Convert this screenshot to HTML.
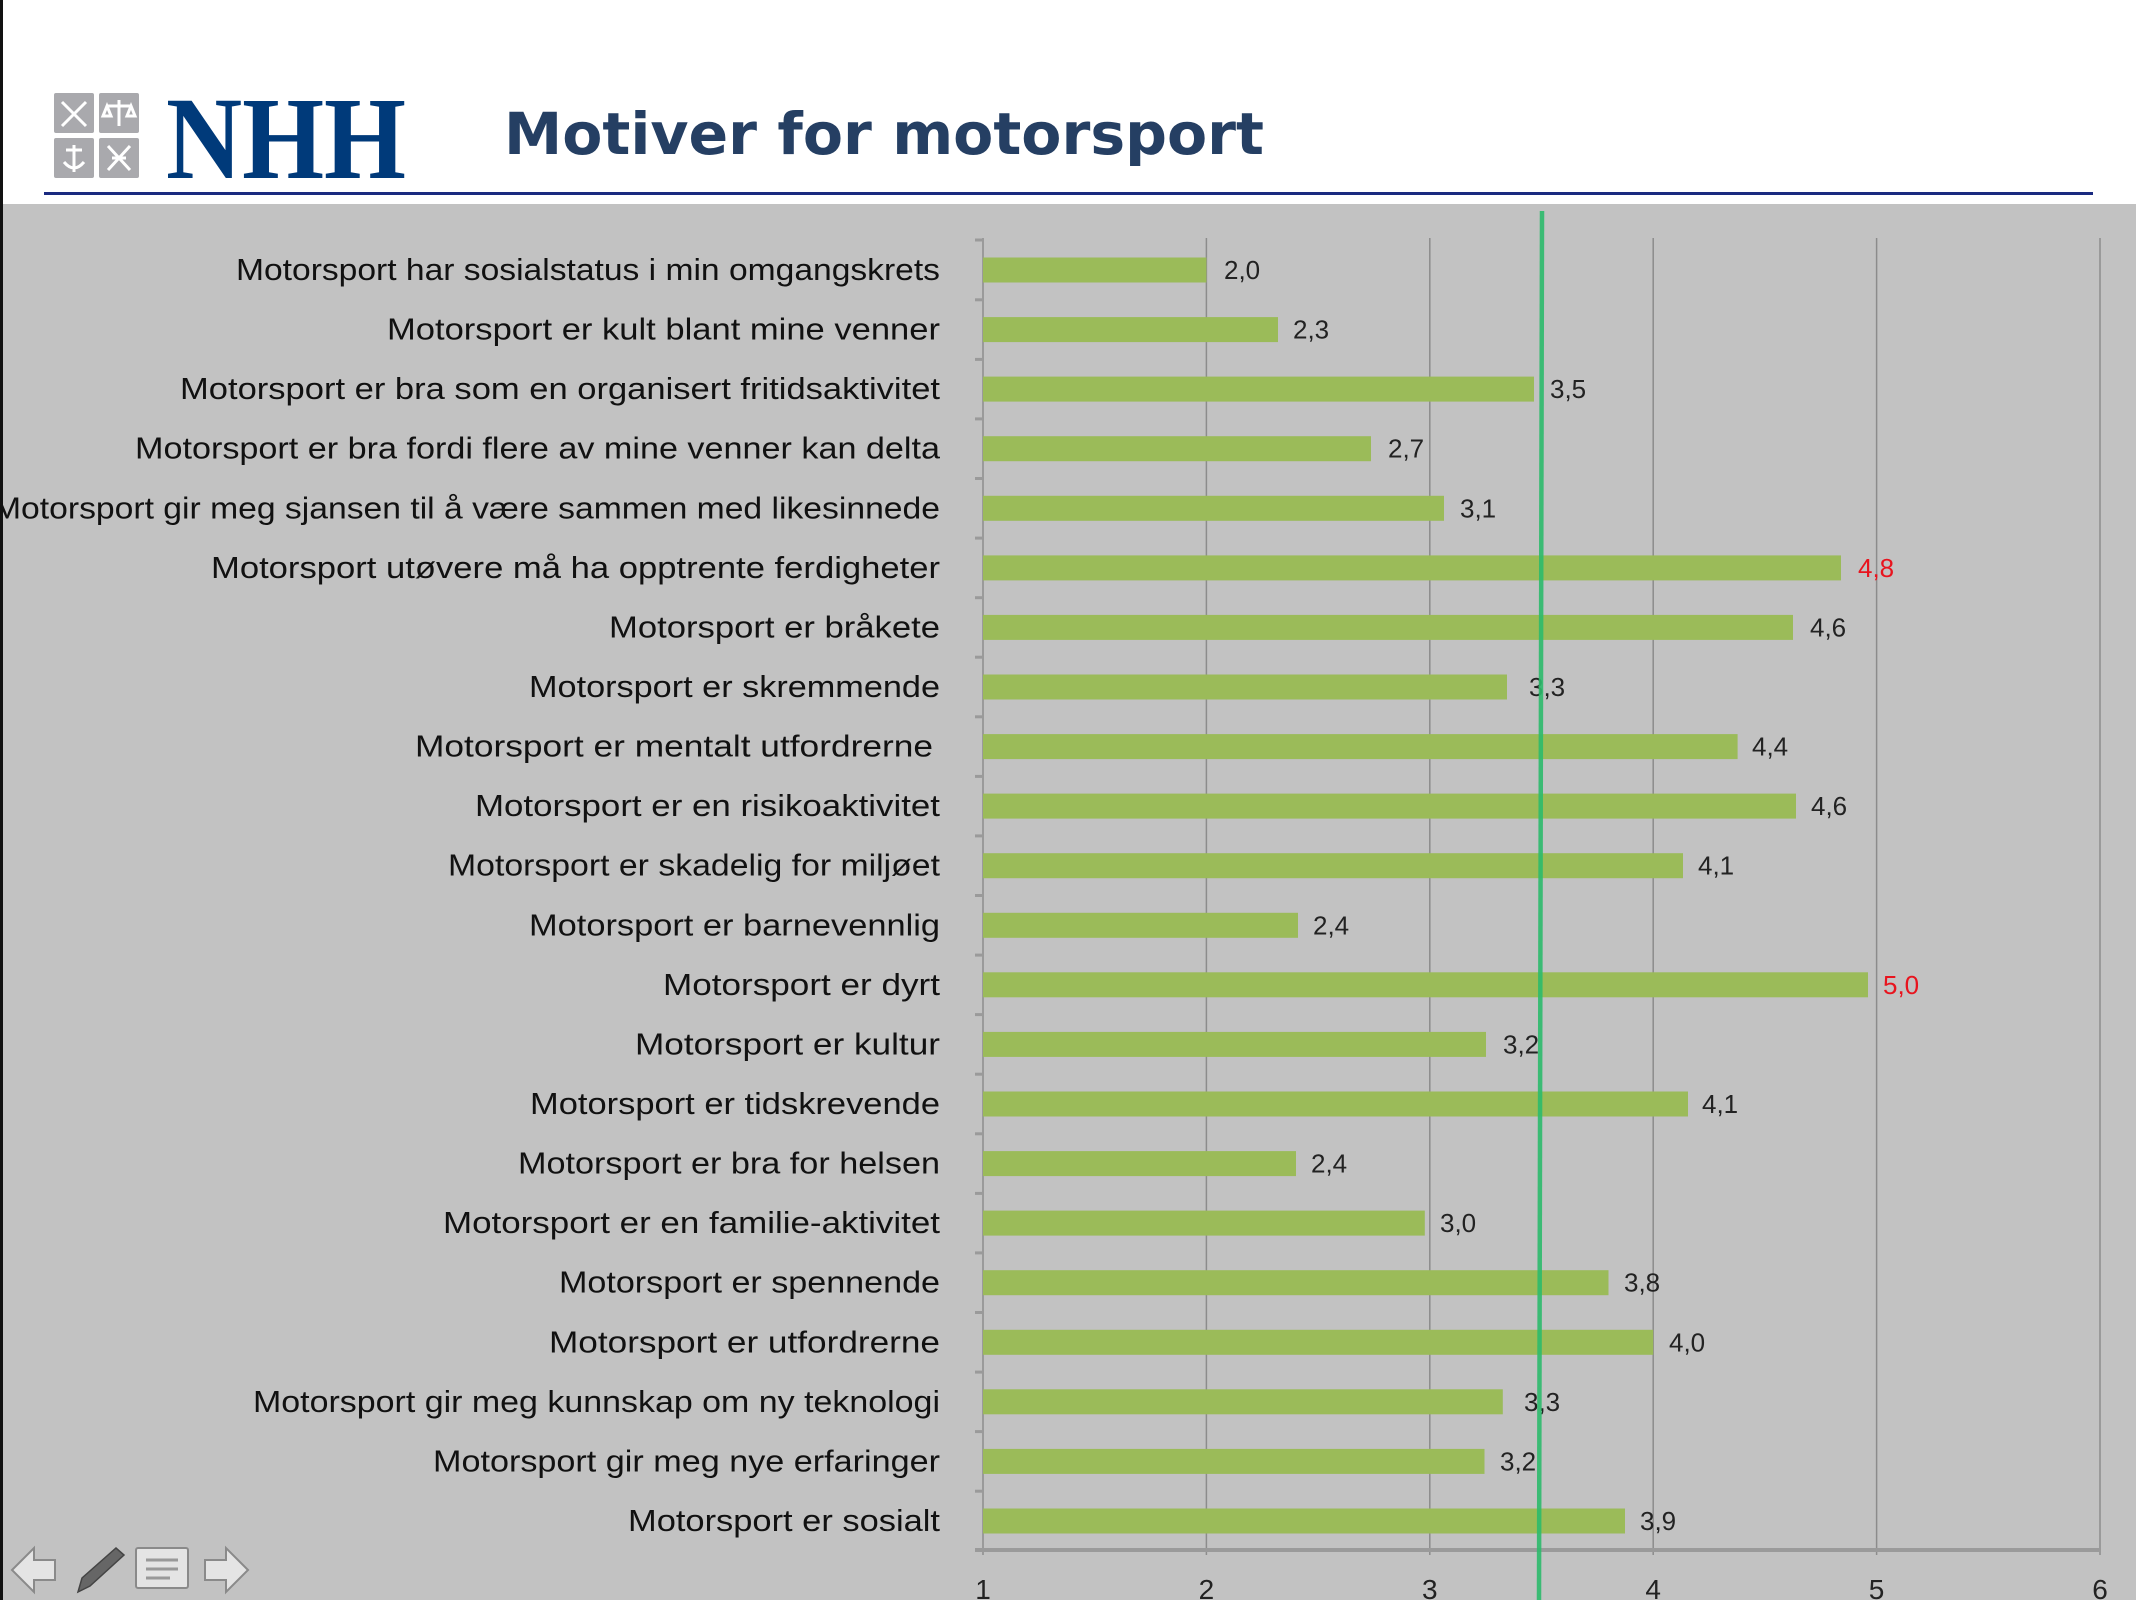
<!DOCTYPE html>
<html><head><meta charset="utf-8"><style>
html,body{margin:0;padding:0;width:2136px;height:1600px;overflow:hidden;background:#fff}
svg{display:block}
</style></head><body>
<svg width="2136" height="1600" viewBox="0 0 2136 1600" xmlns="http://www.w3.org/2000/svg">
<rect x="0" y="0" width="2136" height="1600" fill="#fff"/>
<rect x="0" y="204" width="2136" height="1396" fill="#c2c2c2"/>
<rect x="0" y="0" width="3" height="1600" fill="#111"/>
<g fill="#a9a9ad">
<rect x="54" y="93" width="40" height="40" rx="2"/><rect x="99" y="93" width="40" height="40" rx="2"/>
<rect x="54" y="138" width="40" height="40" rx="2"/><rect x="99" y="138" width="40" height="40" rx="2"/>
</g>
<g stroke="#fff" stroke-width="3" fill="none">
<path d="M62 102 L86 126 M86 102 L62 126"/><path d="M119 100 V126 M107 106 H131 M107 106 l-4 10 h8 z M131 106 l-4 10 h8 z"/>
<path d="M74 145 V172 M66 150 H82 M64 162 q10 12 20 0"/><path d="M108 146 L130 170 M130 146 L108 170 M112 158 H126"/>
</g>
<text x="166" y="178" font-family="Liberation Serif, serif" font-weight="bold" font-size="118" fill="#003a7a" textLength="240" lengthAdjust="spacingAndGlyphs">NHH</text>
<text x="504" y="154" font-family="DejaVu Sans, Liberation Sans, sans-serif" font-weight="bold" font-size="58" fill="#253f63" textLength="760" lengthAdjust="spacingAndGlyphs">Motiver for motorsport</text>
<rect x="44" y="192" width="2049" height="3" fill="#1a2a80"/>
<g stroke="#8c8c8c" stroke-width="1.5">
<line x1="1206.4" y1="238" x2="1206.4" y2="1555"/><line x1="1429.8" y1="238" x2="1429.8" y2="1555"/>
<line x1="1653.2" y1="238" x2="1653.2" y2="1555"/><line x1="1876.6" y1="238" x2="1876.6" y2="1555"/>
<line x1="2100" y1="238" x2="2100" y2="1555"/><line x1="983" y1="238" x2="983" y2="1555"/>
</g>
<line x1="975" y1="1550" x2="2100" y2="1550" stroke="#9a9a9a" stroke-width="4"/>
<g stroke="#9a9a9a" stroke-width="3">
<line x1="975" y1="240" x2="983" y2="240"/><line x1="975" y1="299.8" x2="983" y2="299.8"/><line x1="975" y1="359.4" x2="983" y2="359.4"/><line x1="975" y1="418.9" x2="983" y2="418.9"/><line x1="975" y1="478.5" x2="983" y2="478.5"/><line x1="975" y1="538.1" x2="983" y2="538.1"/><line x1="975" y1="597.7" x2="983" y2="597.7"/><line x1="975" y1="657.2" x2="983" y2="657.2"/><line x1="975" y1="716.8" x2="983" y2="716.8"/><line x1="975" y1="776.4" x2="983" y2="776.4"/><line x1="975" y1="835.9" x2="983" y2="835.9"/><line x1="975" y1="895.5" x2="983" y2="895.5"/><line x1="975" y1="955.1" x2="983" y2="955.1"/><line x1="975" y1="1014.6" x2="983" y2="1014.6"/><line x1="975" y1="1074.2" x2="983" y2="1074.2"/><line x1="975" y1="1133.8" x2="983" y2="1133.8"/><line x1="975" y1="1193.4" x2="983" y2="1193.4"/><line x1="975" y1="1252.9" x2="983" y2="1252.9"/><line x1="975" y1="1312.5" x2="983" y2="1312.5"/><line x1="975" y1="1372.1" x2="983" y2="1372.1"/><line x1="975" y1="1431.6" x2="983" y2="1431.6"/><line x1="975" y1="1491.2" x2="983" y2="1491.2"/>
</g>
<g fill="#9bbb59">
<rect x="983" y="257.5" width="223.4" height="25"/>
<rect x="983" y="317.1" width="295" height="25"/>
<rect x="983" y="376.6" width="551" height="25"/>
<rect x="983" y="436.2" width="388" height="25"/>
<rect x="983" y="495.8" width="461" height="25"/>
<rect x="983" y="555.4" width="858" height="25"/>
<rect x="983" y="614.9" width="810" height="25"/>
<rect x="983" y="674.5" width="524" height="25"/>
<rect x="983" y="734.1" width="754.6" height="25"/>
<rect x="983" y="793.6" width="813" height="25"/>
<rect x="983" y="853.2" width="700" height="25"/>
<rect x="983" y="912.8" width="315" height="25"/>
<rect x="983" y="972.3" width="885" height="25"/>
<rect x="983" y="1031.9" width="503" height="25"/>
<rect x="983" y="1091.5" width="705" height="25"/>
<rect x="983" y="1151.1" width="313" height="25"/>
<rect x="983" y="1210.6" width="441.8" height="25"/>
<rect x="983" y="1270.2" width="625.5" height="25"/>
<rect x="983" y="1329.8" width="670.2" height="25"/>
<rect x="983" y="1389.3" width="519.8" height="25"/>
<rect x="983" y="1448.9" width="501.5" height="25"/>
<rect x="983" y="1508.5" width="642" height="25"/>
</g>
<g font-family="Liberation Sans, sans-serif" font-size="31" fill="#111" text-anchor="end">
<text x="940" y="280" textLength="704" lengthAdjust="spacingAndGlyphs">Motorsport har sosialstatus i min omgangskrets</text>
<text x="940" y="339.6" textLength="553" lengthAdjust="spacingAndGlyphs">Motorsport er kult blant mine venner</text>
<text x="940" y="399.1" textLength="760" lengthAdjust="spacingAndGlyphs">Motorsport er bra som en organisert fritidsaktivitet</text>
<text x="940" y="458.7" textLength="805" lengthAdjust="spacingAndGlyphs">Motorsport er bra fordi flere av mine venner kan delta</text>
<text x="940" y="518.3" textLength="947" lengthAdjust="spacingAndGlyphs">Motorsport gir meg sjansen til å være sammen med likesinnede</text>
<text x="940" y="577.9" textLength="729" lengthAdjust="spacingAndGlyphs">Motorsport utøvere må ha opptrente ferdigheter</text>
<text x="940" y="637.4" textLength="331" lengthAdjust="spacingAndGlyphs">Motorsport er bråkete</text>
<text x="940" y="697" textLength="411" lengthAdjust="spacingAndGlyphs">Motorsport er skremmende</text>
<text x="933" y="756.6" textLength="518" lengthAdjust="spacingAndGlyphs">Motorsport er mentalt utfordrerne</text>
<text x="940" y="816.1" textLength="465" lengthAdjust="spacingAndGlyphs">Motorsport er en risikoaktivitet</text>
<text x="940" y="875.7" textLength="492" lengthAdjust="spacingAndGlyphs">Motorsport er skadelig for miljøet</text>
<text x="940" y="935.3" textLength="411" lengthAdjust="spacingAndGlyphs">Motorsport er barnevennlig</text>
<text x="940" y="994.8" textLength="277" lengthAdjust="spacingAndGlyphs">Motorsport er dyrt</text>
<text x="940" y="1054.4" textLength="305" lengthAdjust="spacingAndGlyphs">Motorsport er kultur</text>
<text x="940" y="1114" textLength="410" lengthAdjust="spacingAndGlyphs">Motorsport er tidskrevende</text>
<text x="940" y="1173.6" textLength="422" lengthAdjust="spacingAndGlyphs">Motorsport er bra for helsen</text>
<text x="940" y="1233.1" textLength="497" lengthAdjust="spacingAndGlyphs">Motorsport er en familie-aktivitet</text>
<text x="940" y="1292.7" textLength="381" lengthAdjust="spacingAndGlyphs">Motorsport er spennende</text>
<text x="940" y="1352.3" textLength="391" lengthAdjust="spacingAndGlyphs">Motorsport er utfordrerne</text>
<text x="940" y="1411.8" textLength="687" lengthAdjust="spacingAndGlyphs">Motorsport gir meg kunnskap om ny teknologi</text>
<text x="940" y="1471.4" textLength="507" lengthAdjust="spacingAndGlyphs">Motorsport gir meg nye erfaringer</text>
<text x="940" y="1531" textLength="312" lengthAdjust="spacingAndGlyphs">Motorsport er sosialt</text>
</g>
<g font-family="Liberation Sans, sans-serif" font-size="26" fill="#222">
<text x="1224" y="279">2,0</text>
<text x="1293" y="338.6">2,3</text>
<text x="1550" y="398.1">3,5</text>
<text x="1388" y="457.7">2,7</text>
<text x="1460" y="517.3">3,1</text>
<text x="1858" y="576.9" fill="#e8141e">4,8</text>
<text x="1810" y="636.4">4,6</text>
<text x="1529" y="696">3,3</text>
<text x="1752" y="755.6">4,4</text>
<text x="1811" y="815.1">4,6</text>
<text x="1698" y="874.7">4,1</text>
<text x="1313" y="934.3">2,4</text>
<text x="1883" y="993.8" fill="#e8141e">5,0</text>
<text x="1503" y="1053.4">3,2</text>
<text x="1702" y="1113">4,1</text>
<text x="1311" y="1172.6">2,4</text>
<text x="1440" y="1232.1">3,0</text>
<text x="1624" y="1291.7">3,8</text>
<text x="1669" y="1351.3">4,0</text>
<text x="1524" y="1410.8">3,3</text>
<text x="1500" y="1470.4">3,2</text>
<text x="1640" y="1530">3,9</text>
</g>
<line x1="1542" y1="211" x2="1539" y2="1600" stroke="#2dbb6c" stroke-width="4.5" opacity="0.9"/>
<g font-family="Liberation Sans, sans-serif" font-size="28" fill="#222" text-anchor="middle">
<text x="983" y="1599">1</text><text x="1206.4" y="1599">2</text><text x="1429.8" y="1599">3</text>
<text x="1653.2" y="1599">4</text><text x="1876.6" y="1599">5</text><text x="2100" y="1599">6</text>
</g>
<g fill="#e4e4e4" stroke="#8a8a8a" stroke-width="2">
<path d="M12 1570 L34 1548 V1560 H55 V1580 H34 V1592 Z"/>
<rect x="136" y="1548" width="52" height="40" rx="2"/>
<path d="M248 1570 L226 1548 V1560 H205 V1580 H226 V1592 Z"/>
</g>
<g stroke="#999" stroke-width="3"><line x1="146" y1="1560" x2="178" y2="1560"/><line x1="146" y1="1569" x2="178" y2="1569"/><line x1="146" y1="1578" x2="170" y2="1578"/></g>
<path d="M78 1592 L82 1578 L116 1548 L124 1555 L90 1586 Z" fill="#666" stroke="#444" stroke-width="1.5"/>
</svg>
</body></html>
